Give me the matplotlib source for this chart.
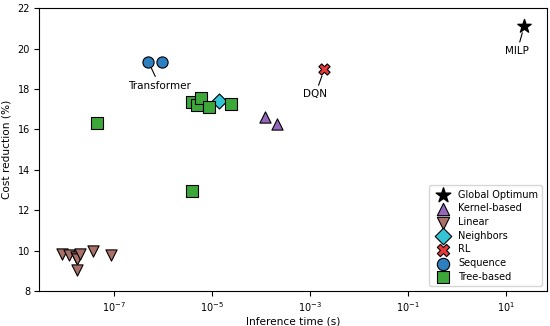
import matplotlib
matplotlib.use("Agg")
import matplotlib.pyplot as plt

# data (inference time in s, cost reduction in %)
optTime = [2.3e1]
optCost = [21.11]

kernelTime = [1.18e-4, 2.15e-4]
kernelCost = [16.59, 16.26]

linearTime = [8.9e-9, 1.23e-8, 1.7e-8, 1.82e-8, 2.1e-8, 1.78e-8, 3.7e-8, 8.9e-8]
linearCost = [9.86, 9.77, 9.69, 9.61, 9.82, 9.06, 9.97, 9.81]

neighTime = [1.41e-5]
neighCost = [17.43]

rlTime = [1.95e-3]
rlCost = [18.97]

seqTime = [5.1e-7, 9.8e-7]
seqCost = [19.34, 19.32]

treeTime = [3.9e-6, 4.9e-6, 5.9e-6, 8.7e-6, 2.4e-5, 4.6e-8, 3.9e-6]
treeCost = [17.36, 17.23, 17.56, 17.10, 17.26, 16.32, 12.93]

plt.rcParams["font.size"] = 7.2
fig, ax = plt.subplots(figsize=(5.5, 3.26), dpi=100)

size = 65
ax.scatter(optTime, optCost, marker="*", s=100, color="black", edgecolor="black", label="Global Optimum", zorder=3)
ax.scatter(kernelTime, kernelCost, marker="^", s=size, color="#9467bd", edgecolor="black", linewidth=0.8, label="Kernel-based", zorder=3)
ax.scatter(linearTime, linearCost, marker="v", s=size, color="#a8716a", edgecolor="black", linewidth=0.8, label="Linear", zorder=3)
ax.scatter(neighTime, neighCost, marker="D", s=size * 0.9, color="#33c4d6", edgecolor="black", linewidth=0.8, label="Neighbors", zorder=3)
ax.scatter(rlTime, rlCost, marker="X", s=size, color="#e8393a", edgecolor="black", linewidth=0.8, label="RL", zorder=3)
ax.scatter(seqTime, seqCost, marker="o", s=size, color="#2e7fc0", edgecolor="black", linewidth=0.8, label="Sequence", zorder=3)
ax.scatter(treeTime, treeCost, marker="s", s=size, color="#3da83a", edgecolor="black", linewidth=0.8, label="Tree-based", zorder=3)

arrow = dict(arrowstyle="-", color="black", lw=0.8, shrinkA=1, shrinkB=5)
ax.annotate("Transformer", (seqTime[0], seqCost[0]), xytext=(8, -17), textcoords="offset points",
            ha="center", va="center", fontsize=7.5, arrowprops=arrow)
ax.annotate("DQN", (rlTime[0], rlCost[0]), xytext=(-6.5, -18), textcoords="offset points",
            ha="center", va="center", fontsize=7.5, arrowprops=arrow)
ax.annotate("MILP", (optTime[0], optCost[0]), xytext=(-5, -18), textcoords="offset points",
            ha="center", va="center", fontsize=7.5, arrowprops=arrow)

ax.set_xscale("log")
ax.set_ylim(8, 22)
ax.set_xlabel("Inference time (s)", fontsize=7.6, labelpad=2)
ax.set_ylabel("Cost reduction (%)", fontsize=7.6, labelpad=4)
ax.tick_params(labelsize=7, pad=3)
ax.legend(loc="lower right", fontsize=7, handletextpad=0.5, labelspacing=0.38, borderpad=0.45,
          markerscale=1.1)

fig.subplots_adjust(left=0.071, right=0.995, top=0.975, bottom=0.107)
fig.savefig("out.png", dpi=100)
